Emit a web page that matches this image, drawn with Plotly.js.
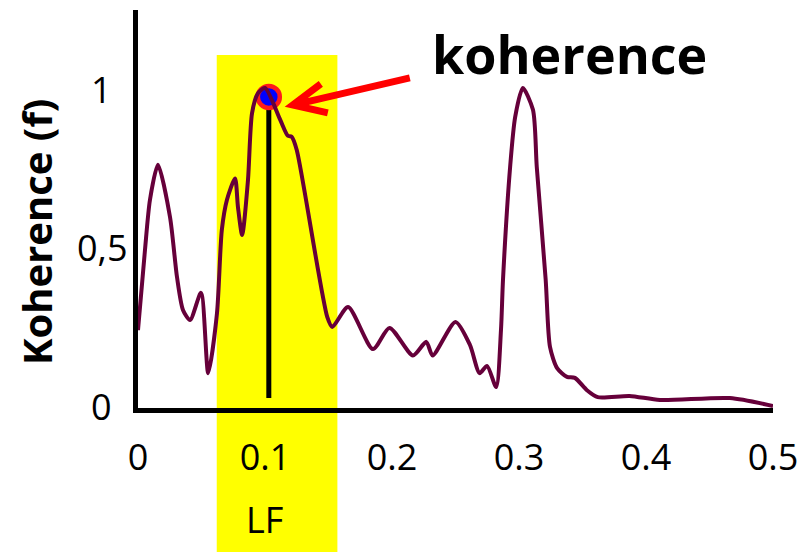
<!DOCTYPE html>
<html><head><meta charset="utf-8">
<script src="https://cdn.plot.ly/plotly-3.0.1.min.js"></script>
<style>html,body{margin:0;padding:0;background:#fff}#chart{width:810px;height:552px}</style>
</head><body><div id="chart"></div>
<script>
// Frequency (Hz) and coherence values
const freq = [0, 0.0055, 0.0094, 0.0157, 0.0252, 0.0307, 0.0354, 0.041, 0.0496, 0.0553, 0.0622, 0.066, 0.070, 0.0764, 0.0787, 0.082, 0.0866, 0.0898, 0.0945, 0.100, 0.112, 0.118, 0.121, 0.125, 0.149, 0.153, 0.1654, 0.185, 0.198, 0.2165, 0.227, 0.232, 0.250, 0.2614, 0.269, 0.2748, 0.282, 0.2858, 0.2874, 0.293, 0.297, 0.303, 0.311, 0.314, 0.321, 0.3244, 0.33, 0.3378, 0.344, 0.3535, 0.362, 0.387, 0.411, 0.466, 0.5];
const coherence = [0.24, 0.494, 0.652, 0.763, 0.598, 0.408, 0.304, 0.272, 0.358, 0.104, 0.294, 0.557, 0.652, 0.72, 0.63, 0.541, 0.715, 0.927, 0.99, 1.006, 0.905, 0.855, 0.852, 0.81, 0.282, 0.25, 0.313, 0.18, 0.247, 0.16, 0.203, 0.16, 0.266, 0.193, 0.104, 0.127, 0.06, 0.24, 0.40, 0.756, 0.915, 1.006, 0.937, 0.756, 0.40, 0.187, 0.12, 0.092, 0.089, 0.05, 0.028, 0.032, 0.019, 0.025, 0.0];
// Highlighted peak
const peakFreq = [0.103];
const peakValue = [0.978];
const stemBase = 0.025;
// LF band
const lfBand = [0.062, 0.157];
const lfLabel = 'LF';
// Ticks
const xTickVals = [0, 0.1, 0.2, 0.3, 0.4, 0.5];
const xTickText = ['0', '0.1', '0.2', '0.3', '0.4', '0.5'];
const yTickVals = [0, 0.5, 1];
const yTickText = ['0', '0,5', '1'];
const yTitle = 'Koherence (f)';
const callout = 'koherence';

const xRange = [0, 0.5];
const yRange = [-0.0063, 1.253];
const FONT = 'Open Sans, Noto Sans, sans-serif';

const traces = [
  {x: [peakFreq[0], peakFreq[0]], y: [stemBase, peakValue[0]], mode: 'lines', line: {color: '#000', width: 5}, hoverinfo: 'skip'},
  {x: peakFreq, y: peakValue, mode: 'markers', marker: {size: 22, color: '#0000ff', line: {color: '#ff1a1a', width: 4.5}}},
  {x: freq, y: coherence, mode: 'lines', line: {color: '#66003a', width: 4, shape: 'spline', smoothing: 0.7}}
];

const toPaperX = v => (v - xRange[0]) / (xRange[1] - xRange[0]);

const annotations = yTickVals.map((v, i) => ({
  xref: 'paper', yref: 'y', x: -0.0567, y: v, text: yTickText[i], showarrow: false,
  xanchor: 'center', yanchor: 'middle', font: {family: FONT, size: 36, color: '#000'}
}));
annotations.push({xref: 'paper', yref: 'paper', x: -0.1606, y: 0.442, text: '<b>' + yTitle + '</b>', textangle: -90,
  showarrow: false, xanchor: 'center', yanchor: 'middle', font: {family: FONT, size: 40, color: '#000'}});
annotations.push({xref: 'paper', yref: 'paper', x: toPaperX((lfBand[0] + lfBand[1]) / 2) - 0.02, y: -0.281, text: lfLabel,
  showarrow: false, xanchor: 'center', yanchor: 'middle', font: {family: FONT, size: 36, color: '#000'}});
annotations.push({xref: 'paper', yref: 'paper', x: 0.46, y: 0.89, text: '<b>' + callout + '</b>',
  showarrow: false, xanchor: 'left', yanchor: 'middle', font: {family: FONT, size: 52, color: '#000'}});

const shapes = [
  {type: 'rect', layer: 'below', xref: 'paper', yref: 'paper', x0: toPaperX(lfBand[0]), x1: toPaperX(lfBand[1]), y0: -0.4, y1: 0.887,
   fillcolor: '#ffff00', line: {width: 0}},
  {type: 'path', xref: 'x', yref: 'y', xsizemode: 'pixel', ysizemode: 'pixel', xanchor: peakFreq[0], yanchor: peakValue[0],
   path: 'M 141 19 L 25 -8 M 52 13 L 24 -8 L 59 -16', line: {color: '#ff0000', width: 7}}
];

const layout = {
  width: 810, height: 552,
  margin: {l: 138, r: 37, t: 10, b: 144},
  paper_bgcolor: '#fff', plot_bgcolor: 'rgba(0,0,0,0)',
  showlegend: false,
  font: {family: FONT, size: 36, color: '#000'},
  xaxis: {range: xRange, showline: true, linewidth: 5, linecolor: '#000', showgrid: false, zeroline: false,
    tickmode: 'array', tickvals: xTickVals, ticktext: xTickText, ticks: 'outside', ticklen: 14, tickcolor: 'rgba(0,0,0,0)',
    tickfont: {family: FONT, size: 36, color: '#000'}},
  yaxis: {range: yRange, showline: true, linewidth: 5, linecolor: '#000', showgrid: false, zeroline: false,
    tickmode: 'array', tickvals: yTickVals, showticklabels: false, ticks: ''},
  annotations: annotations,
  shapes: shapes
};

Plotly.newPlot('chart', traces, layout, {staticPlot: true});
</script></body></html>
